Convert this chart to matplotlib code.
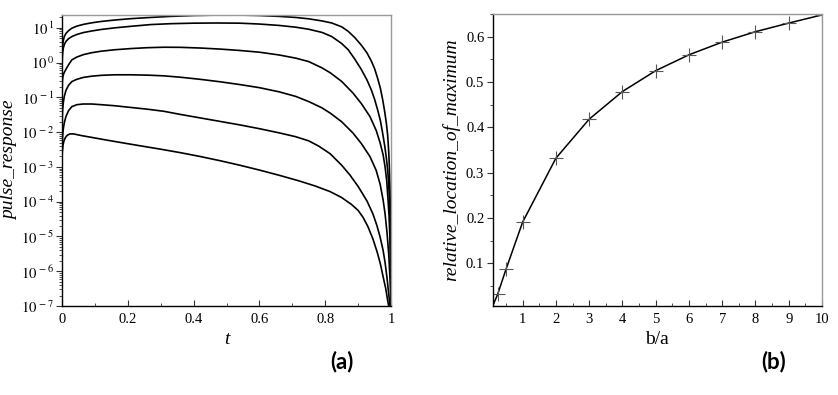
import numpy as np
import matplotlib
matplotlib.use("Agg")
import matplotlib.pyplot as plt
from matplotlib.ticker import FixedLocator, FuncFormatter, LogLocator, NullFormatter, MultipleLocator

plt.rcParams['font.family'] = ['Liberation Serif', 'DejaVu Serif']
plt.rcParams['mathtext.fontset'] = 'stix'

# ---- panel (a): pulse response curves, values read as log10(pulse_response) ----
t1 = [0.0, 0.0005, 0.001, 0.002, 0.004, 0.007, 0.012, 0.02, 0.03, 0.045, 0.065, 0.09, 0.12, 0.16, 0.21, 0.27,
      0.33, 0.40, 0.47, 0.54, 0.60, 0.66, 0.71, 0.75, 0.79, 0.82, 0.85, 0.87, 0.89, 0.91, 0.927, 0.94, 0.95,
      0.96, 0.968, 0.975, 0.981, 0.986, 0.99, 0.993, 0.995, 0.997, 0.998, 0.999, 1.0]
lg1 = [-0.5, 0.1, 0.36, 0.5, 0.64, 0.75, 0.84, 0.92, 0.99, 1.05, 1.10, 1.145, 1.185, 1.225, 1.265, 1.30,
       1.33, 1.355, 1.367, 1.368, 1.355, 1.33, 1.30, 1.26, 1.20, 1.14, 1.03, 0.90, 0.72, 0.50, 0.28, 0.05, -0.17,
       -0.47, -0.75, -1.08, -1.42, -1.75, -2.1, -2.55, -3.0, -3.7, -4.3, -5.3, -7.0]

t2 = [0.0, 0.0005, 0.001, 0.002, 0.004, 0.007, 0.012, 0.02, 0.03, 0.045, 0.065, 0.09, 0.12, 0.16, 0.21, 0.27,
      0.33, 0.40, 0.47, 0.54, 0.60, 0.66, 0.71, 0.75, 0.79, 0.82, 0.85, 0.87, 0.89, 0.91, 0.927, 0.94, 0.95,
      0.96, 0.968, 0.975, 0.981, 0.986, 0.99, 0.993, 0.995, 0.997, 0.999, 1.0]
lg2 = [-0.8, -0.1, 0.15, 0.30, 0.42, 0.52, 0.61, 0.69, 0.75, 0.81, 0.865, 0.91, 0.955, 1.0, 1.045, 1.095,
       1.12, 1.135, 1.14, 1.135, 1.11, 1.07, 1.02, 0.96, 0.87, 0.75, 0.55, 0.37, 0.10, -0.20, -0.50, -0.78, -1.05,
       -1.38, -1.68, -2.05, -2.4, -2.75, -3.1, -3.5, -3.9, -4.5, -5.7, -7.0]

t3 = [0.0, 0.0005, 0.001, 0.002, 0.004, 0.007, 0.012, 0.02, 0.03, 0.045, 0.065, 0.09, 0.12, 0.16, 0.21, 0.26,
      0.31, 0.36, 0.42, 0.48, 0.54, 0.60, 0.66, 0.71, 0.75, 0.79, 0.815, 0.85, 0.884, 0.91, 0.936, 0.955, 0.967,
      0.976, 0.982, 0.987, 0.991, 0.994, 0.997, 0.999, 1.0]
lg3 = [-1.6, -0.85, -0.58, -0.45, -0.35, -0.28, -0.19, -0.06, 0.08, 0.16, 0.23, 0.285, 0.33, 0.37, 0.405, 0.43,
       0.443, 0.44, 0.42, 0.39, 0.35, 0.30, 0.22, 0.13, 0.03, -0.15, -0.29, -0.54, -0.87, -1.18, -1.55, -1.95, -2.31,
       -2.65, -3.0, -3.4, -3.95, -4.4, -5.1, -6.0, -7.0]

t4 = [0.0, 0.0005, 0.001, 0.002, 0.004, 0.007, 0.012, 0.02, 0.03, 0.045, 0.065, 0.09, 0.12, 0.16, 0.21, 0.26,
      0.31, 0.36, 0.42, 0.48, 0.54, 0.60, 0.66, 0.71, 0.75, 0.79, 0.815, 0.85, 0.884, 0.91, 0.936, 0.955, 0.967,
      0.976, 0.982, 0.988, 0.993, 0.997, 1.0]
lg4 = [-2.8, -1.9, -1.55, -1.35, -1.15, -0.97, -0.8, -0.65, -0.545, -0.48, -0.425, -0.39, -0.365, -0.35, -0.35, -0.36,
       -0.38, -0.42, -0.48, -0.55, -0.63, -0.72, -0.84, -0.97, -1.12, -1.30, -1.45, -1.70, -2.02, -2.33, -2.70, -3.1, -3.5,
       -3.95, -4.35, -4.9, -5.5, -6.2, -7.0]

t5 = [0.0, 0.0005, 0.001, 0.002, 0.004, 0.007, 0.012, 0.02, 0.03, 0.045, 0.065, 0.09, 0.12, 0.16, 0.21, 0.26,
      0.31, 0.36, 0.42, 0.48, 0.54, 0.60, 0.66, 0.71, 0.75, 0.78, 0.815, 0.85, 0.875, 0.90, 0.927, 0.945, 0.957,
      0.967, 0.976, 0.982, 0.988, 0.993, 0.997]
lg5 = [-3.2, -2.65, -2.31, -2.1, -1.9, -1.73, -1.55, -1.38, -1.265, -1.21, -1.19, -1.19, -1.21, -1.24, -1.29, -1.34,
       -1.40, -1.49, -1.59, -1.69, -1.79, -1.90, -2.02, -2.13, -2.25, -2.40, -2.62, -2.95, -3.23, -3.56, -3.98, -4.35, -4.68,
       -5.02, -5.4, -5.75, -6.2, -6.65, -7.0]

t6 = [0.0, 0.001, 0.003, 0.006, 0.01, 0.016, 0.024, 0.035, 0.045, 0.06, 0.09, 0.131, 0.18, 0.23, 0.30, 0.36,
      0.42, 0.48, 0.54, 0.60, 0.66, 0.72, 0.77, 0.815, 0.85, 0.88, 0.90, 0.915, 0.93, 0.945, 0.958, 0.968,
      0.977, 0.984, 0.99, 0.993]
lg6 = [-2.75, -2.55, -2.37, -2.25, -2.16, -2.09, -2.05, -2.05, -2.07, -2.10, -2.15, -2.22, -2.30, -2.38, -2.49, -2.59,
       -2.70, -2.82, -2.95, -3.09, -3.24, -3.40, -3.55, -3.71, -3.88, -4.08, -4.25, -4.45, -4.72, -5.07, -5.45, -5.8,
       -6.2, -6.5, -6.85, -7.0]

curves = [(t1, lg1), (t2, lg2), (t3, lg3), (t4, lg4), (t5, lg5), (t6, lg6)]

# ---- panel (b): relative location of maximum ----
ba = [0.1, 0.25, 0.5, 1, 2, 3, 4, 5, 6, 7, 8, 9, 10]
loc = [0.006, 0.032, 0.087, 0.191, 0.332, 0.418, 0.479, 0.525, 0.560, 0.588, 0.611, 0.630, 0.648]

fig = plt.figure(figsize=(8.38, 3.95), dpi=100)
ax1 = fig.add_axes([62/838, 1-306/395, (391-62)/838, (306-15)/395])
ax2 = fig.add_axes([492.7/838, 1-306/395, (822-492.7)/838, (306-14)/395])

for t, lg in curves:
    ax1.plot(t, np.power(10.0, lg), color='black', lw=1.2, solid_joinstyle='round')
ax1.set_yscale('log')
ax1.set_xlim(0, 1)
ax1.set_ylim(1e-7, 10**1.37)
ax1.xaxis.set_major_locator(FixedLocator([0, 0.2, 0.4, 0.6, 0.8, 1.0]))
ax1.xaxis.set_major_formatter(FuncFormatter(lambda x, p: '0' if x == 0 else ('1' if x == 1 else f'{x:.1f}')))
ax1.xaxis.set_minor_locator(MultipleLocator(0.1))
ax1.yaxis.set_major_locator(FixedLocator([10.0**k for k in range(-7, 2)]))
ax1.yaxis.set_major_formatter(FuncFormatter(lambda y, p: r'$10^{\,%d}$' % int(round(np.log10(y)))))
ax1.yaxis.set_minor_locator(LogLocator(base=10, subs=np.arange(2, 10), numticks=20))
ax1.yaxis.set_minor_formatter(NullFormatter())
ax1.set_xlabel('t', fontstyle='italic', fontsize=14, labelpad=4)
ax1.set_ylabel('pulse_response', fontstyle='italic', fontsize=14, labelpad=2)

ax2.plot(ba, loc, color='black', lw=1.1)
ax2.plot(ba, loc, linestyle='none', marker='+', markersize=10, mew=0.8, color='#555555')
ax2.set_xlim(0.1, 10)
ax2.set_ylim(0.006, 0.65)
ax2.xaxis.set_major_locator(FixedLocator(list(range(1, 11))))
ax2.xaxis.set_minor_locator(MultipleLocator(0.5))
ax2.yaxis.set_major_locator(FixedLocator([0.1, 0.2, 0.3, 0.4, 0.5, 0.6]))
ax2.yaxis.set_minor_locator(MultipleLocator(0.05))
ax2.set_xlabel('b/a', fontsize=14, labelpad=4)
ax2.set_ylabel('relative_location_of_maximum', fontstyle='italic', fontsize=14, labelpad=4)

for ax in (ax1, ax2):
    ax.spines['left'].set_color('black')
    ax.spines['bottom'].set_color('black')
    ax.spines['top'].set_color('#999999')
    ax.spines['right'].set_color('#999999')
    for s in ax.spines.values():
        s.set_linewidth(1.0)
    ax.tick_params(axis='both', which='major', labelsize=10.5, length=4, width=0.8, color='#333333')
    ax.tick_params(axis='both', which='minor', length=2, width=0.6, color='#333333')
    ax.tick_params(axis='x', which='both', direction='in', pad=5)
    ax.tick_params(axis='y', which='both', direction='out', pad=2)

fig.text(342/838, 1-362/395, '(a)', fontsize=16, fontweight='bold', family='Lato', ha='center', va='center')
fig.text(774/838, 1-362/395, '(b)', fontsize=16, fontweight='bold', family='Lato', ha='center', va='center')

fig.savefig('out.png', dpi=100)
